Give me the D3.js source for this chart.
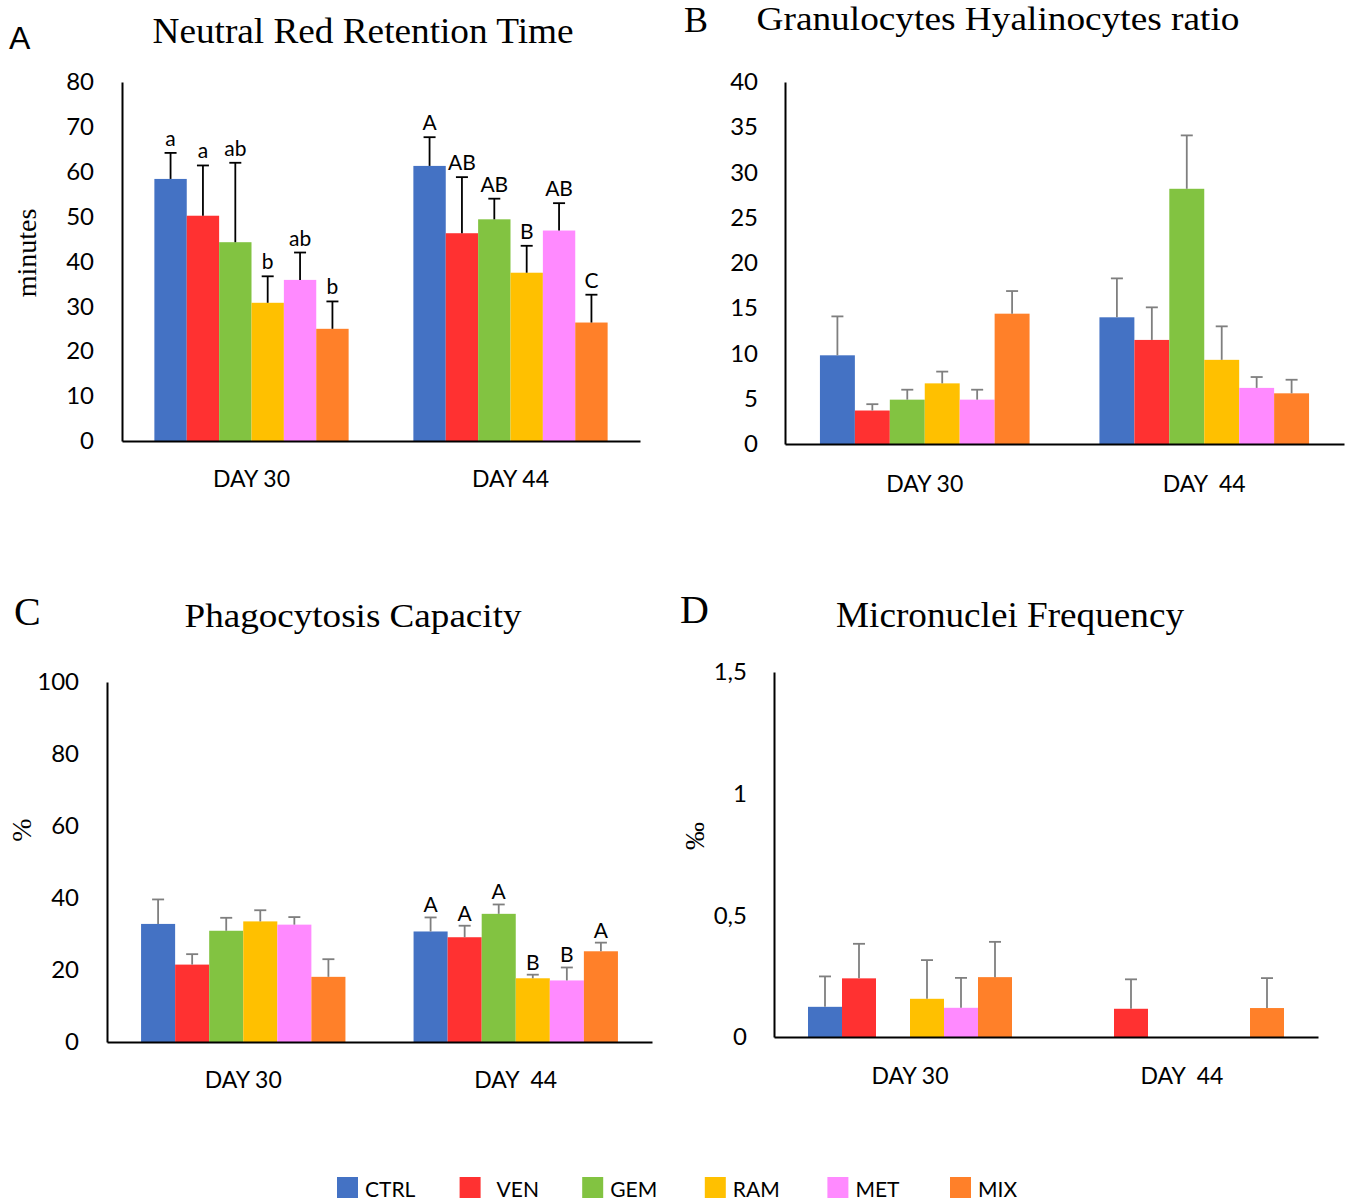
<!DOCTYPE html>
<html>
<head>
<meta charset="utf-8">
<script src="https://cdn.jsdelivr.net/npm/d3@7"></script>
<style>
  body { margin: 0; background: #fff; }
  svg { display: block; }
</style>
</head>
<body>
<script>
// treatments and colours
const groups = ["CTRL", "VEN", "GEM", "RAM", "MET", "MIX"];
const colors = ["#4472c4", "#ff3131", "#82c341", "#ffc000", "#ff8aff", "#ff8029"];

// A - neutral red retention time (minutes)
const nrrMean30 = [58.4, 50.2, 44.3, 30.8, 35.9, 25.0];
const nrrErr30  = [5.8, 11.2, 17.7, 5.9, 6.1, 6.1];
const nrrMean44 = [61.3, 46.3, 49.4, 37.5, 46.9, 26.4];
const nrrErr44  = [6.4, 12.5, 4.6, 6.0, 6.1, 6.2];
const nrrLetters30 = ["a", "a", "ab", "b", "ab", "b"];
const nrrLetters44 = ["A", "AB", "AB", "B", "AB", "C"];

// B - granulocytes / hyalinocytes ratio
const ghMean30 = [9.8, 3.7, 4.9, 6.7, 4.9, 14.4];
const ghErr30  = [4.3, 0.7, 1.1, 1.3, 1.1, 2.5];
const ghMean44 = [14.0, 11.5, 28.2, 9.3, 6.2, 5.6];
const ghErr44  = [4.3, 3.6, 5.9, 3.7, 1.2, 1.5];

// C - phagocytosis capacity (%)
const pcMean30 = [32.8, 21.5, 30.9, 33.5, 32.6, 18.1];
const pcErr30  = [6.8, 2.9, 3.6, 3.1, 2.1, 4.9];
const pcMean44 = [30.7, 29.1, 35.6, 17.7, 17.1, 25.2];
const pcErr44  = [3.9, 3.2, 2.6, 1.0, 3.6, 2.4];
const pcLetters44 = ["A", "A", "A", "B", "B", "A"];

// D - micronuclei frequency (per mille)
const mnMean30 = [0.124, 0.241, 0, 0.157, 0.120, 0.246];
const mnErr30  = [0.125, 0.142, 0, 0.159, 0.123, 0.145];
const mnMean44 = [0, 0.116, 0, 0, 0, 0.119];
const mnErr44  = [0, 0.121, 0, 0, 0, 0.123];

const daysA = ["DAY 30", "DAY 44"];
const days = ["DAY 30", "DAY  44"];

const ticksA = [0, 10, 20, 30, 40, 50, 60, 70, 80];
const ticksB = [0, 5, 10, 15, 20, 25, 30, 35, 40];
const ticksC = [0, 20, 40, 60, 80, 100];
const ticksD = [0, 0.5, 1, 1.5];
const tickLabelsD = ["0", "0,5", "1", "1,5"];

const W = 1345, H = 1200;
const sansFont = "Lato, 'Open Sans', sans-serif";
const serifFont = "'Liberation Serif', 'Times New Roman', serif";

const svg = d3.select("body").append("svg")
  .attr("width", W)
  .attr("height", H);

function panel(cfg){
  const g = svg.append("g");

  const x = d3.scaleBand().domain(cfg.days).range([cfg.x0, cfg.x1]).padding(0);
  const bw = x.bandwidth();
  const xi = d3.scaleBand().domain(groups).range([bw * 0.125, bw * 0.875]).padding(0);
  const y = d3.scaleLinear().domain([0, cfg.max]).range([cfg.yBot, cfg.yTop]);

  const rows = [];
  cfg.days.forEach((day, di) => {
    groups.forEach((grp, gi) => {
      rows.push({
        day, grp, gi,
        v: cfg.means[di][gi],
        e: cfg.errs[di][gi],
        lab: cfg.letters && cfg.letters[di] ? cfg.letters[di][gi] : null
      });
    });
  });

  // bars
  g.selectAll(".bar")
    .data(rows.filter(d => d.v > 0))
    .enter().append("rect")
    .attr("class", "bar")
    .attr("x", d => x(d.day) + xi(d.grp))
    .attr("width", xi.bandwidth())
    .attr("y", d => y(d.v))
    .attr("height", d => y(0) - y(d.v))
    .attr("fill", d => colors[d.gi]);

  // error bars (upper only)
  const eb = g.selectAll(".err")
    .data(rows.filter(d => d.v > 0 && d.e > 0))
    .enter().append("g")
    .attr("class", "err")
    .attr("stroke", cfg.errColor)
    .attr("stroke-width", 1.8);
  eb.append("line")
    .attr("x1", d => x(d.day) + xi(d.grp) + xi.bandwidth() / 2)
    .attr("x2", d => x(d.day) + xi(d.grp) + xi.bandwidth() / 2)
    .attr("y1", d => y(d.v))
    .attr("y2", d => y(d.v + d.e));
  eb.append("line")
    .attr("x1", d => x(d.day) + xi(d.grp) + xi.bandwidth() / 2 - 6)
    .attr("x2", d => x(d.day) + xi(d.grp) + xi.bandwidth() / 2 + 6)
    .attr("y1", d => y(d.v + d.e))
    .attr("y2", d => y(d.v + d.e));

  // significance letters
  g.selectAll(".lab")
    .data(rows.filter(d => d.lab))
    .enter().append("text")
    .attr("class", "lab")
    .attr("x", d => x(d.day) + xi(d.grp) + xi.bandwidth() / 2)
    .attr("y", d => y(d.v + d.e) - cfg.labGap)
    .attr("text-anchor", "middle")
    .attr("font-family", sansFont)
    .attr("font-size", 21)
    .attr("fill", "#000")
    .text(d => d.lab);

  // y axis: line plus labels, no tick marks
  const yAxis = d3.axisLeft(y)
    .tickValues(cfg.ticks)
    .tickSize(0)
    .tickPadding(cfg.tickPad)
    .tickFormat((d, i) => cfg.tickLabels ? cfg.tickLabels[i] : d);
  const ya = g.append("g")
    .attr("transform", `translate(${cfg.x0},0)`)
    .call(yAxis);
  ya.select(".domain").attr("stroke", "#000").attr("stroke-width", 2);
  ya.selectAll("text")
    .attr("font-family", sansFont)
    .attr("font-size", 24)
    .attr("fill", "#000");

  // x axis
  const xAxis = d3.axisBottom(x).tickSize(0).tickPadding(0).tickFormat("");
  const xa = g.append("g")
    .attr("transform", `translate(0,${cfg.yBot})`)
    .call(xAxis);
  xa.select(".domain").attr("stroke", "#000").attr("stroke-width", 2);

  g.selectAll(".day")
    .data(cfg.days)
    .enter().append("text")
    .attr("class", "day")
    .attr("x", d => x(d) + bw / 2)
    .attr("y", cfg.dayY)
    .attr("text-anchor", "middle")
    .attr("font-family", sansFont)
    .attr("font-size", 23)
    .style("white-space", "pre")
    .text(d => d);

  // title and panel letter
  g.append("text")
    .attr("x", cfg.titleX - cfg.titleW / 2)
    .attr("y", cfg.titleY)
    .attr("font-family", serifFont)
    .attr("font-size", cfg.titleSize)
    .attr("textLength", cfg.titleW)
    .attr("lengthAdjust", "spacingAndGlyphs")
    .text(cfg.title);

  g.append("text")
    .attr("x", cfg.letterX)
    .attr("y", cfg.letterY)
    .attr("font-family", cfg.letterFont)
    .attr("font-size", cfg.letterSize)
    .text(cfg.letter);

  if(cfg.yLabel){
    g.append("text")
      .attr("transform", `translate(${cfg.yLabelX},${cfg.yLabelY}) rotate(-90)`)
      .attr("text-anchor", "middle")
      .attr("font-family", serifFont)
      .attr("font-size", cfg.yLabelSize)
      .text(cfg.yLabel);
  }
}

panel({
  days: daysA, x0: 122, x1: 640, yTop: 82, yBot: 441, max: 80,
  ticks: ticksA, tickPad: 28,
  means: [nrrMean30, nrrMean44], errs: [nrrErr30, nrrErr44],
  letters: [nrrLetters30, nrrLetters44], labGap: 7, errColor: "#000",
  dayY: 487,
  title: "Neutral Red Retention Time", titleX: 363, titleY: 43, titleSize: 35, titleW: 421,
  letter: "A", letterX: 9, letterY: 49, letterFont: "'Liberation Sans', Arial, sans-serif", letterSize: 32,
  yLabel: "minutes", yLabelX: 36, yLabelY: 253, yLabelSize: 28
});

panel({
  days: days, x0: 785, x1: 1344, yTop: 82, yBot: 444, max: 40,
  ticks: ticksB, tickPad: 27,
  means: [ghMean30, ghMean44], errs: [ghErr30, ghErr44],
  letters: null, labGap: 7, errColor: "#7f7f7f",
  dayY: 492,
  title: "Granulocytes Hyalinocytes ratio", titleX: 998, titleY: 30, titleSize: 33, titleW: 483,
  letter: "B", letterX: 684, letterY: 32, letterFont: serifFont, letterSize: 36
});

panel({
  days: days, x0: 107, x1: 652, yTop: 682, yBot: 1042, max: 100,
  ticks: ticksC, tickPad: 28,
  means: [pcMean30, pcMean44], errs: [pcErr30, pcErr44],
  letters: [null, pcLetters44], labGap: 5, errColor: "#7f7f7f",
  dayY: 1088,
  title: "Phagocytosis Capacity", titleX: 353, titleY: 627, titleSize: 34, titleW: 337,
  letter: "C", letterX: 14, letterY: 625, letterFont: serifFont, letterSize: 40,
  yLabel: "%", yLabelX: 31, yLabelY: 830, yLabelSize: 28
});

panel({
  days: days, x0: 774, x1: 1318, yTop: 672, yBot: 1037, max: 1.5,
  ticks: ticksD, tickLabels: tickLabelsD, tickPad: 27,
  means: [mnMean30, mnMean44], errs: [mnErr30, mnErr44],
  letters: null, labGap: 5, errColor: "#7f7f7f",
  dayY: 1084,
  title: "Micronuclei Frequency", titleX: 1010, titleY: 627, titleSize: 35, titleW: 348,
  letter: "D", letterX: 680, letterY: 623, letterFont: serifFont, letterSize: 40,
  yLabel: "‰", yLabelX: 704, yLabelY: 836, yLabelSize: 28
});

// legend
const lx = d3.scalePoint().domain(groups).range([337, 950]);
const leg = svg.append("g").selectAll("g")
  .data(groups)
  .enter().append("g")
  .attr("transform", d => `translate(${lx(d)},1177)`);
leg.append("rect")
  .attr("width", 21)
  .attr("height", 21)
  .attr("fill", (d, i) => colors[i]);
leg.append("text")
  .attr("x", (d, i) => i === 1 ? 37 : 28)
  .attr("y", 20)
  .attr("font-family", sansFont)
  .attr("font-size", 21)
  .text(d => d);
</script>
</body>
</html>
